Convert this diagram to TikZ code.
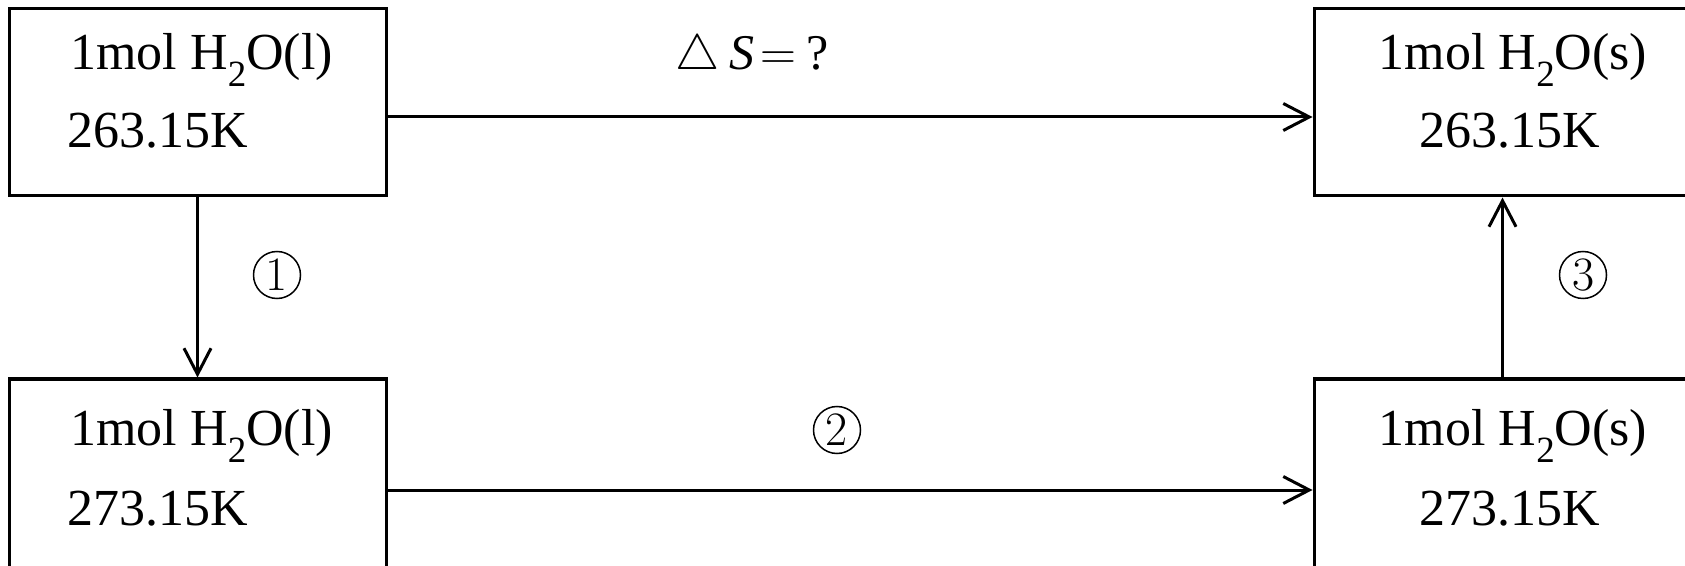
\documentclass[tikz,border=0pt]{standalone}
\usepackage{fontspec}
\newfontfamily\tnr{Liberation Serif}
\usetikzlibrary{arrows.meta}
\newcommand\subtwo{\raisebox{-8.5pt}{\fontsize{18.5}{18.5}\selectfont 2}}
\begin{document}
\begin{tikzpicture}[x=0.5pt,y=-0.5pt,
  box/.style={draw,line width=1.5pt,minimum width=188.5pt,minimum height=93.5pt,inner sep=0pt},
  arr/.style={line width=1.5pt,-{Straight Barb[length=13pt,width=13.5pt]}},
  txt/.style={font=\tnr\fontsize{26}{26}\selectfont,inner sep=0pt},
  num/.style={draw,circle,line width=0.75pt,minimum size=23.5pt,inner sep=0pt,font=\fontsize{24}{24}\selectfont}]
\useasboundingbox (0,0) rectangle (1685,566);
\clip (0,0) rectangle (1685,566);
% boxes
\node[box] (tl) at (197.5,102.5) {};
\node[box] (tr) at (1502.5,102.5) {};
\node[box,minimum height=98pt] (bl) at (197.5,477) {};
\node[box,minimum height=98pt] (br) at (1502.5,477) {};
% texts
\node[txt,anchor=base west] (tla) at (70,70) {1mol H\subtwo O(l)};
\node[txt,anchor=base west] (tlb) at (67,148) {263.15K};
\node[txt,anchor=base west] (bla) at (70,445) {1mol H\subtwo O(l)};
\node[txt,anchor=base west] (blb) at (67,525) {273.15K};
\node[txt,anchor=base] (tra) at (1513,70) {1mol H\subtwo O(s)};
\node[txt,anchor=base] (trb) at (1510,148) {263.15K};
\node[txt,anchor=base] (bra) at (1513,445) {1mol H\subtwo O(s)};
\node[txt,anchor=base] (brb) at (1510,525) {273.15K};
% arrows
\draw[arr] ([yshift=-7.25pt]tl.east) -- ([yshift=-7.25pt]tl.east -| tr.west);
\draw[arr] ([yshift=-6.5pt]bl.east) -- ([yshift=-6.5pt]bl.east -| br.west);
\draw[arr] (tl.south) -- (tl.south |- bl.north);
\draw[arr] (br.north) -- (br.north |- tr.south);
% labels
\node[anchor=base west,inner sep=0pt,font=\fontsize{24}{24}\selectfont] (ds) at (675,70)
  {$\triangle$\hspace{5pt}{\tnr\itshape\fontsize{25}{25}\selectfont S}\hspace{3pt}$=$\hspace{5pt}{\tnr\fontsize{25}{25}\selectfont ?}};
\node[num] (n1) at (277,275) {1};
\node[num] (n2) at (837,430) {2};
\node[num] (n3) at (1583,275) {3};
\end{tikzpicture}
\end{document}
